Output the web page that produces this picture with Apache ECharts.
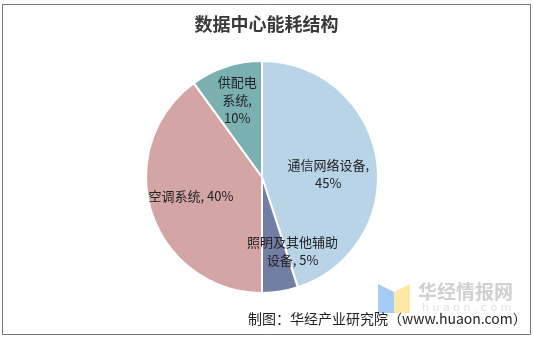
<!DOCTYPE html>
<html><head><meta charset="utf-8">
<script src="https://cdn.jsdelivr.net/npm/echarts@6/dist/echarts.min.js"></script>
<style>html,body{margin:0;padding:0;background:#fff}#c{width:533px;height:337px}</style>
</head><body><div id="c"></div>
<script>
const categories = ['通信网络设备', '照明及其他辅助设备', '空调系统', '供配电系统'];
const values = [45, 5, 40, 10];
const colors = ['#b8d4e6', '#737ea4', '#d3a5a4', '#7ab0b0'];
const labelTexts = ['通信网络设备,\n45%', '照明及其他辅助\n设备, 5%', '空调系统, 40%', '供配电\n系统,\n10%'];
const labelOffsets = [[6, 7], [21, 14], [-13, 0], [-6, -19]];

const chart = echarts.init(document.getElementById('c'), null, {renderer: 'canvas'});
chart.setOption({
  animation: false,
  backgroundColor: '#fff',
  title: {
    text: '数据中心能耗结构', left: 'center', top: 10,
    textStyle: {fontFamily: 'Noto Sans CJK SC', fontSize: 18, fontWeight: 'bold', color: '#3a3a3a'}
  },
  graphic: [
    {type: 'rect', shape: {x: 2.5, y: 4.5, width: 528, height: 330}, style: {fill: 'none', stroke: '#777', lineWidth: 1}, z: 100},
    {type: 'polygon', shape: {points: [[378, 284], [394, 292], [394, 313], [378, 313]]}, style: {fill: '#a6cbf5'}, z: 1},
    {type: 'polygon', shape: {points: [[394, 292], [410, 284], [410, 313], [394, 313]]}, style: {fill: '#fde9a6'}, z: 1},
    {type: 'text', left: 418, top: 282, style: {text: '华经情报网', font: 'bold 19px "Noto Sans CJK SC"', fill: '#d0d0d0'}, z: 1},
    {type: 'text', left: 422, top: 303, style: {text: 'h u a o n . c o m', font: '11px "DejaVu Sans"', fill: '#e2e2e2'}, z: 1},
    {type: 'text', left: 248, top: 312, style: {text: '制图：华经产业研究院（www.huaon.com）', font: '14px "Noto Sans CJK SC"', fill: '#222'}, z: 10}
  ],
  series: [{
    type: 'pie',
    center: [262, 177],
    radius: [0, 116],
    startAngle: 90,
    clockwise: true,
    itemStyle: {borderColor: '#fff', borderWidth: 2},
    label: {
      show: true, position: 'inside',
      fontFamily: 'Noto Sans CJK SC', fontSize: 13, lineHeight: 18, color: '#222',
      formatter: p => labelTexts[p.dataIndex]
    },
    labelLine: {show: false},
    data: categories.map((n, i) => ({
      name: n, value: values[i],
      itemStyle: {color: colors[i]},
      label: {offset: labelOffsets[i]}
    }))
  }]
});
</script></body></html>
